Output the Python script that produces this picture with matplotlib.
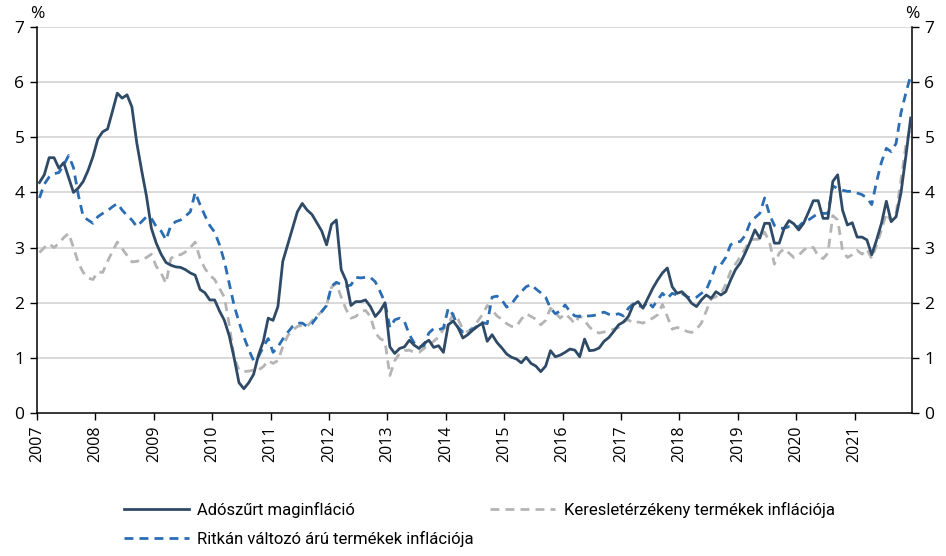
import numpy as np
import matplotlib
matplotlib.use("Agg")
import matplotlib.pyplot as plt

# monthly data, Jan 2007 - Dec 2021 (%)
maginflacio = [
    4.18, 4.32, 4.63, 4.63, 4.44, 4.54, 4.27, 4.00, 4.08, 4.20, 4.40, 4.65,
    4.97, 5.10, 5.15, 5.47, 5.80, 5.71, 5.77, 5.55, 4.90, 4.40, 3.93, 3.35,
    3.08, 2.88, 2.73, 2.68, 2.65, 2.64, 2.60, 2.54, 2.50, 2.24, 2.18, 2.05,
    2.05, 1.85, 1.68, 1.40, 1.00, 0.55, 0.44, 0.55, 0.70, 1.05, 1.30, 1.72,
    1.68, 1.93, 2.75, 3.05, 3.35, 3.65, 3.80, 3.68, 3.60, 3.45, 3.30, 3.05,
    3.42, 3.50, 2.60, 2.40, 1.95, 2.02, 2.02, 2.05, 1.93, 1.75, 1.85, 2.00,
    1.20, 1.08, 1.17, 1.20, 1.32, 1.23, 1.17, 1.26, 1.32, 1.19, 1.22, 1.10,
    1.60, 1.67, 1.55, 1.36, 1.42, 1.50, 1.57, 1.63, 1.30, 1.42, 1.28, 1.18,
    1.07, 1.01, 0.98, 0.91, 1.01, 0.90, 0.85, 0.75, 0.85, 1.13, 1.02, 1.05,
    1.10, 1.16, 1.14, 1.02, 1.34, 1.13, 1.14, 1.18, 1.30, 1.37, 1.48, 1.60,
    1.65, 1.75, 1.96, 2.02, 1.90, 2.08, 2.26, 2.41, 2.54, 2.63, 2.29, 2.17,
    2.20, 2.11, 1.99, 1.93, 2.05, 2.14, 2.08, 2.20, 2.14, 2.20, 2.41, 2.60,
    2.72, 2.90, 3.10, 3.32, 3.17, 3.44, 3.44, 3.08, 3.08, 3.35, 3.49, 3.43,
    3.32, 3.44, 3.64, 3.85, 3.85, 3.53, 3.53, 4.20, 4.32, 3.68, 3.41, 3.45,
    3.19, 3.19, 3.14, 2.87, 3.14, 3.44, 3.84, 3.47, 3.56, 3.99, 4.65, 5.35,
]
kereslet = [
    2.91, 3.00, 3.07, 3.00, 3.08, 3.18, 3.26, 3.00, 2.72, 2.55, 2.45, 2.42,
    2.56, 2.55, 2.75, 2.93, 3.10, 2.98, 2.86, 2.74, 2.75, 2.78, 2.82, 2.88,
    2.66, 2.54, 2.35, 2.80, 2.87, 2.87, 2.92, 3.00, 3.10, 2.80, 2.62, 2.50,
    2.42, 2.26, 2.10, 1.60, 1.00, 0.78, 0.75, 0.76, 0.78, 0.78, 0.84, 0.95,
    0.90, 0.95, 1.20, 1.40, 1.50, 1.57, 1.59, 1.57, 1.67, 1.76, 1.84, 1.96,
    2.28, 2.35, 2.10, 1.88, 1.72, 1.75, 1.84, 1.86, 1.75, 1.45, 1.35, 1.30,
    0.68, 0.95, 1.08, 1.13, 1.14, 1.10, 1.10, 1.17, 1.23, 1.30, 1.38, 1.52,
    1.60, 1.80, 1.70, 1.52, 1.47, 1.55, 1.66, 1.78, 1.95, 1.87, 1.76, 1.70,
    1.62, 1.57, 1.57, 1.70, 1.80, 1.75, 1.70, 1.60, 1.68, 1.90, 1.82, 1.72,
    1.80, 1.72, 1.62, 1.77, 1.68, 1.56, 1.48, 1.45, 1.47, 1.49, 1.52, 1.55,
    1.66, 1.69, 1.63, 1.65, 1.63, 1.68, 1.72, 1.78, 1.97, 1.75, 1.52, 1.55,
    1.53, 1.48, 1.46, 1.52, 1.63, 1.85, 2.07, 2.11, 2.16, 2.33, 2.57, 2.70,
    2.83, 2.98, 3.14, 3.15, 3.15, 3.28, 3.10, 2.70, 2.90, 2.98, 2.90, 2.82,
    2.86, 2.95, 3.02, 3.00, 2.85, 2.80, 2.90, 3.58, 3.50, 2.95, 2.82, 2.87,
    2.95, 2.88, 2.97, 2.80, 3.05, 3.32, 3.62, 3.48, 3.62, 4.22, 4.85, 5.20,
]
ritkan = [
    3.90, 4.15, 4.28, 4.34, 4.36, 4.50, 4.67, 4.45, 3.95, 3.56, 3.50, 3.44,
    3.56, 3.62, 3.67, 3.74, 3.80, 3.68, 3.58, 3.50, 3.38, 3.47, 3.56, 3.53,
    3.38, 3.30, 3.14, 3.40, 3.47, 3.50, 3.57, 3.65, 4.00, 3.78, 3.58, 3.40,
    3.28, 3.05, 2.75, 2.35, 1.95, 1.65, 1.38, 1.15, 0.95, 1.02, 1.20, 1.35,
    1.10, 1.20, 1.34, 1.46, 1.57, 1.63, 1.63, 1.57, 1.62, 1.74, 1.84, 1.95,
    2.30, 2.37, 2.33, 2.30, 2.32, 2.46, 2.45, 2.46, 2.46, 2.38, 2.20, 2.00,
    1.55, 1.69, 1.72, 1.66, 1.42, 1.27, 1.20, 1.22, 1.45, 1.53, 1.51, 1.54,
    1.90, 1.78, 1.55, 1.47, 1.48, 1.52, 1.58, 1.64, 1.62, 2.10, 2.12, 2.05,
    1.92, 1.98, 2.10, 2.20, 2.29, 2.33, 2.25, 2.18, 2.10, 1.90, 1.80, 1.85,
    1.96, 1.84, 1.76, 1.75, 1.76, 1.76, 1.77, 1.80, 1.83, 1.79, 1.78, 1.80,
    1.76, 1.90, 1.98, 1.95, 1.92, 2.02, 1.92, 2.05, 2.17, 2.08, 2.17, 2.14,
    2.17, 2.11, 2.08, 2.10, 2.17, 2.23, 2.44, 2.68, 2.69, 2.82, 3.05, 3.10,
    3.11, 3.22, 3.45, 3.54, 3.62, 3.90, 3.60, 3.40, 3.35, 3.35, 3.38, 3.38,
    3.38, 3.47, 3.50, 3.56, 3.62, 3.62, 3.62, 4.12, 4.07, 4.04, 4.02, 4.02,
    3.99, 3.96, 3.90, 3.78, 4.20, 4.55, 4.80, 4.74, 4.89, 5.44, 5.80, 6.12,
]
years = list(range(2007, 2022))
labels = ["Adószűrt maginfláció",
          "Keresletérzékeny termékek inflációja",
          "Ritkán változó árú termékek inflációja"]

# x position: middle of each month, in years
x = 2007 + (np.arange(len(maginflacio)) + 0.5) / 12

plt.rcParams['font.family'] = ['Open Sans', 'DejaVu Sans']

fig = plt.figure(figsize=(9.46, 5.56), dpi=100)
ax = fig.add_axes([0.0391, 0.2572, 0.9249, 0.6942])

for v in range(1, 8):
    ax.axhline(v, color='#d0d0d0', lw=1.1, zorder=0)

l_kereslet, = ax.plot(x, kereslet, color='#b4b4b4', lw=2.0, dashes=(3.2, 2.2), zorder=2)
l_ritkan, = ax.plot(x, ritkan, color='#2a6db3', lw=2.0, dashes=(3.2, 2.2), zorder=3)
l_mag, = ax.plot(x, maginflacio, color='#2f4a66', lw=2.0, zorder=4)

ax.set_xlim(2007, 2021.98)
ax.set_ylim(0, 7)
ax.set_xticks(years)
ax.set_xticklabels([str(y) for y in years], rotation=90, fontsize=11.5)
ax.set_yticks(range(0, 8))
ax.tick_params(axis='y', labelsize=12.5, length=5, width=1, direction='out',
               left=True, right=True, labelleft=True, labelright=True, pad=4)
ax.tick_params(axis='x', length=5, width=1, direction='out', pad=4)

ax.spines['top'].set_visible(False)
for s in ['left', 'right', 'bottom']:
    ax.spines[s].set_linewidth(1.1)
    ax.spines[s].set_color('black')

ax.text(0.0, 1.012, "%", transform=ax.transAxes, ha='center', va='bottom', fontsize=12.5)
ax.text(1.0, 1.012, "%", transform=ax.transAxes, ha='center', va='bottom', fontsize=12.5)

leg = fig.legend([l_mag, l_ritkan, l_kereslet], [labels[0], labels[2], labels[1]],
                 ncol=2, loc='upper left', bbox_to_anchor=(0.115, 0.125),
                 frameon=False, handlelength=3.9, handletextpad=0.5,
                 columnspacing=1.0, labelspacing=0.8,
                 prop={'family': ['Roboto', 'DejaVu Sans'], 'size': 12})

fig.savefig("out.png", dpi=100)
